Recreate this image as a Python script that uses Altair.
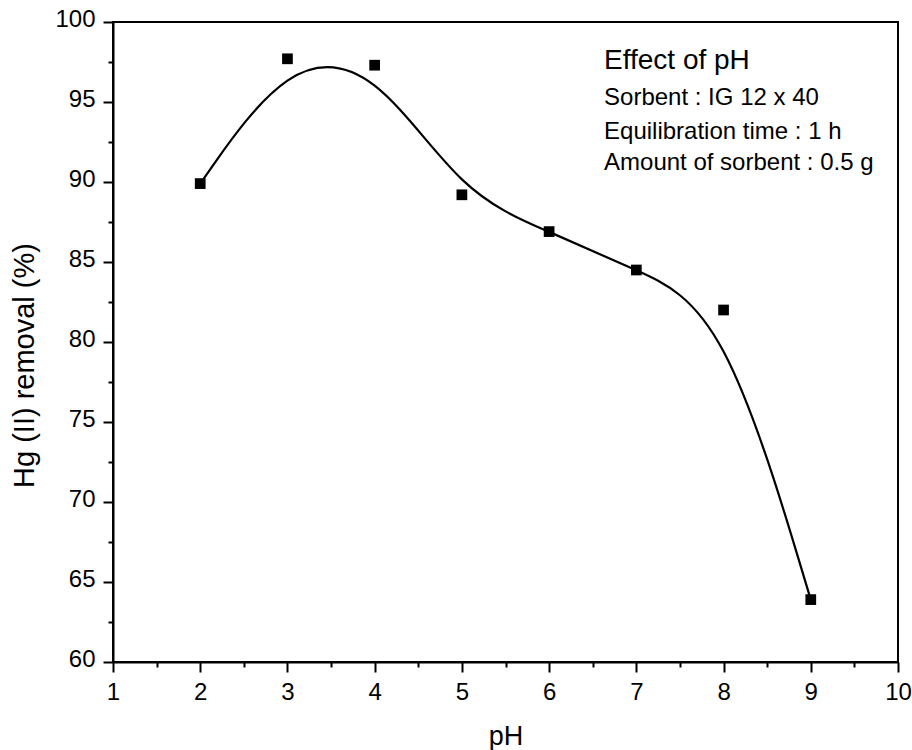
import altair as alt
import pandas as pd

# Data
ph = [2, 3, 4, 5, 6, 7, 8, 9]
removal = [89.9, 97.7, 97.3, 89.2, 86.9, 84.5, 82.0, 63.9]

x_major = [1, 2, 3, 4, 5, 6, 7, 8, 9, 10]
x_minor = [1.5, 2.5, 3.5, 4.5, 5.5, 6.5, 7.5, 8.5, 9.5]
y_major = [60, 65, 70, 75, 80, 85, 90, 95, 100]
y_minor = [62.5, 67.5, 72.5, 77.5, 82.5, 87.5, 92.5, 97.5]

notes = ["Effect of pH", "Sorbent : IG 12 x 40", "Equilibration time : 1 h", "Amount of sorbent : 0.5 g"]
note_x = [6.63, 6.63, 6.63, 6.63]
note_y = [97.05, 94.8, 92.7, 90.75]
note_size = [28, 24, 24, 24]

df = pd.DataFrame({"pH": ph, "removal": removal})
notes_df = pd.DataFrame({"text": notes, "x": note_x, "y": note_y, "size": note_size})

FONT = "Liberation Sans"
xscale = alt.Scale(domain=[1, 10], nice=False, zero=False)
yscale = alt.Scale(domain=[60, 100], nice=False, zero=False)

major_x_axis = alt.Axis(values=x_major, orient="bottom", title="pH", tickSize=10, tickWidth=2,
                        tickColor="black", domainColor="black", domainWidth=2, grid=False,
                        labelFont=FONT, labelFontSize=24, labelColor="black", labelPadding=8,
                        labelFlush=False,
                        titleFont=FONT, titleFontSize=27, titleFontWeight="normal", titleColor="black",
                        titleBaseline="alphabetic", titleY=82, format="d")
major_y_axis = alt.Axis(values=y_major, orient="left", title="Hg (II) removal (%)", tickSize=10, tickWidth=2,
                        tickColor="black", domainColor="black", domainWidth=2, grid=False,
                        labelFont=FONT, labelFontSize=24, labelColor="black", labelPadding=8,
                        labelOffset=-3, labelFlush=False,
                        titleFont=FONT, titleFontSize=29, titleFontWeight="normal", titleColor="black",
                        titleBaseline="alphabetic", titleX=-80, titleY=343, titleAngle=-90, format="d")
minor_x_axis = alt.Axis(values=x_minor, orient="bottom", title=None, labels=False, tickSize=5, tickWidth=2,
                        tickColor="black", domain=False, grid=False)
minor_y_axis = alt.Axis(values=y_minor, orient="left", title=None, labels=False, tickSize=5, tickWidth=2,
                        tickColor="black", domain=False, grid=False)

line = alt.Chart(df).mark_line(interpolate="basis", color="black", strokeWidth=2.2).encode(
    x=alt.X("pH:Q", scale=xscale, axis=minor_x_axis),
    y=alt.Y("removal:Q", scale=yscale, axis=minor_y_axis),
    order="pH:Q",
)

points = alt.Chart(df).mark_square(size=115, color="black", opacity=1).encode(
    x=alt.X("pH:Q", scale=xscale, axis=major_x_axis),
    y=alt.Y("removal:Q", scale=yscale, axis=major_y_axis),
)

text = alt.Chart(notes_df).mark_text(align="left", baseline="alphabetic", font=FONT, color="black").encode(
    x=alt.X("x:Q", scale=xscale, axis=None),
    y=alt.Y("y:Q", scale=yscale, axis=None),
    text="text:N",
    size=alt.Size("size:Q", scale=None, legend=None),
)

chart = alt.layer(line, points, text).resolve_axis(
    x="independent", y="independent"
).resolve_scale(x="shared", y="shared").properties(
    width=785, height=640,
    autosize=alt.AutoSizeParams(type="none"),
    padding={"left": 113, "top": 22, "right": 14, "bottom": 88},
    background="white",
).configure_view(stroke="black", strokeWidth=2)

chart.save("out.html", embed_options={"renderer": "svg", "actions": False})
